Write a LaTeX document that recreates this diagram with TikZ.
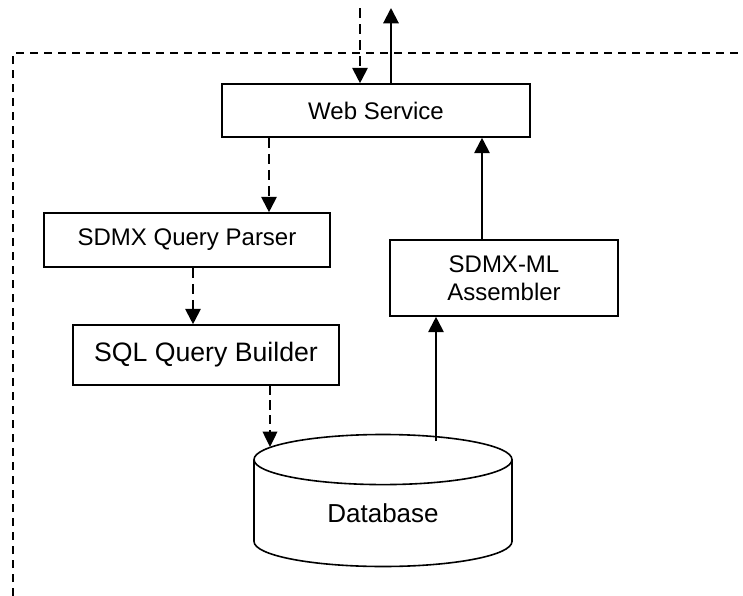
\documentclass[tikz,border=0pt]{standalone}
\usepackage{fontspec}
\setmainfont{Liberation Sans}
\usetikzlibrary{shapes.geometric,arrows.meta}
\tikzset{
  nd_box/.style={
    rectangle, draw=black, line width=1.2pt,
    inner sep=0pt, align=center,
    font=\fontsize{18}{21}\selectfont},
  nd_big/.style={
    nd_box, font=\fontsize{20}{24}\selectfont},
  nd_db/.style={
    cylinder, shape border rotate=90, aspect=0.45,
    draw=black, line width=1.2pt, inner sep=0pt,
    font=\fontsize{19.5}{23}\selectfont},
  arr/.style={-{Triangle[length=11.5pt,width=11.5pt]},line width=1.5pt},
  darr/.style={arr,dash pattern=on 7.5pt off 4.5pt},
  tarr/.style={-{Triangle[length=11.5pt,width=11pt]},line width=1pt,
    dash pattern=on 7pt off 4pt},
  bound/.style={line width=1.1pt,dash pattern=on 6pt off 4.5pt},
}

\begin{document}
\begin{tikzpicture}[x=0.75pt,y=-0.75pt]
\useasboundingbox (0,0) rectangle (743,596);

%% outer boundary
\draw[bound] (13,596) -- (13,53) -- (743,53);

%% boxes
\node[nd_box, minimum width=231pt,  minimum height=39.75pt] at (376,110.5) (WS){Web Service};
\node[nd_box, minimum width=214.5pt,minimum height=40.5pt]  at (187,240)   (QP){SDMX Query Parser};
\node[nd_big, minimum width=199.5pt,minimum height=45pt]    at (206,355)   (QB){SQL Query Builder};
\node[nd_box, minimum width=171pt,  minimum height=57pt]    at (504,278)   (AS){SDMX-ML\\Assembler};
\node[nd_db,  minimum width=193.5pt,minimum height=99pt,
      anchor=shape center] at (383,500.5) (DB){Database};

%% arrow columns
\coordinate (xin)  at (360,8);
\coordinate (xout) at (391,8);
\coordinate (xqp)  at (269,0);
\coordinate (xqb)  at (193,0);
\coordinate (xas)  at (482,0);
\coordinate (dbin) at (270,447);
\coordinate (dbout) at (436,441);

%% arrows
\draw[darr] (xin)--(xin |- WS.north);
\draw[arr]  (WS.north -| xout)--(xout);
\draw[darr] (WS.south -| xqp)--(QP.north -| xqp);
\draw[darr] (QP.south -| xqb)--(QB.north -| xqb);
\draw[tarr] (QB.south -| dbin)--(dbin);
\draw[arr]  (dbout)--(AS.south -| dbout);
\draw[arr]  (AS.north -| xas)--(WS.south -| xas);

\end{tikzpicture}
\end{document}
